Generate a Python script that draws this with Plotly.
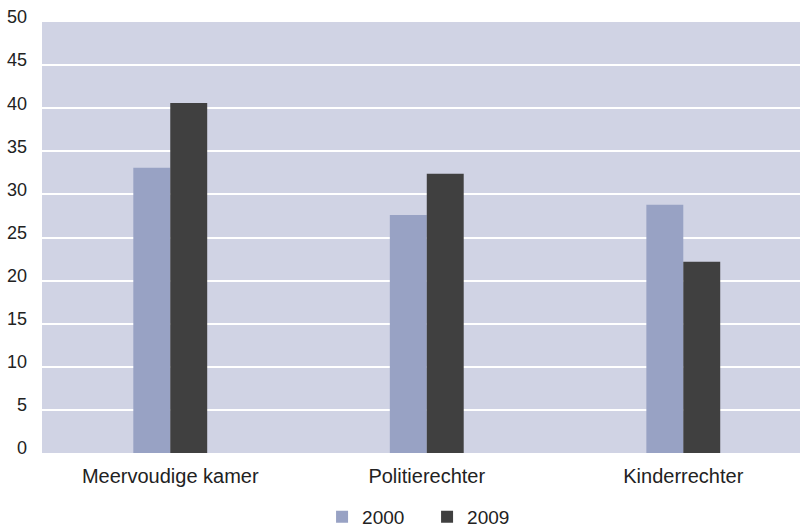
import plotly.graph_objects as go

categories = ["Meervoudige kamer", "Politierechter", "Kinderrechter"]
values_2000 = [33.1, 27.6, 28.8]
values_2009 = [40.6, 32.4, 22.2]
y_ticks = [0, 5, 10, 15, 20, 25, 30, 35, 40, 45, 50]

font_family = "'Liberation Sans', Arial, sans-serif"

fig = go.Figure()
fig.add_trace(go.Bar(name="2000", x=categories, y=values_2000, marker_color="#98A2C4",
                     marker_line_width=0))
fig.add_trace(go.Bar(name="2009", x=categories, y=values_2009, marker_color="#404040",
                     marker_line_width=0))

fig.update_layout(
    width=800, height=527,
    barmode="group", bargap=0.712, bargroupgap=0,
    plot_bgcolor="#D0D3E4", paper_bgcolor="white",
    margin=dict(l=42, r=0, t=22, b=74, autoexpand=False),
    font=dict(family=font_family, size=20, color="#222222"),
    showlegend=True,
    legend=dict(orientation="h", x=0.508, xanchor="center", y=-0.148, yanchor="middle",
                font=dict(size=19), entrywidth=60, itemwidth=30,
                borderwidth=0, bgcolor="rgba(0,0,0,0)"),
)
fig.update_xaxes(range=[-0.5, 2.455], showgrid=False, ticks="", showline=False,
                 tickfont=dict(size=20), ticklabelstandoff=9, automargin=False)
fig.update_yaxes(range=[0, 50], tickvals=y_ticks, showgrid=True, gridcolor="white",
                 gridwidth=2, zeroline=False, showline=False, ticks="",
                 tickfont=dict(size=18), ticklabelstandoff=14, ticklabelshift=-5,
                 automargin=False)

fig.write_html("out.html", config={"displayModeBar": False},
               post_script="document.body.style.margin='0';")
